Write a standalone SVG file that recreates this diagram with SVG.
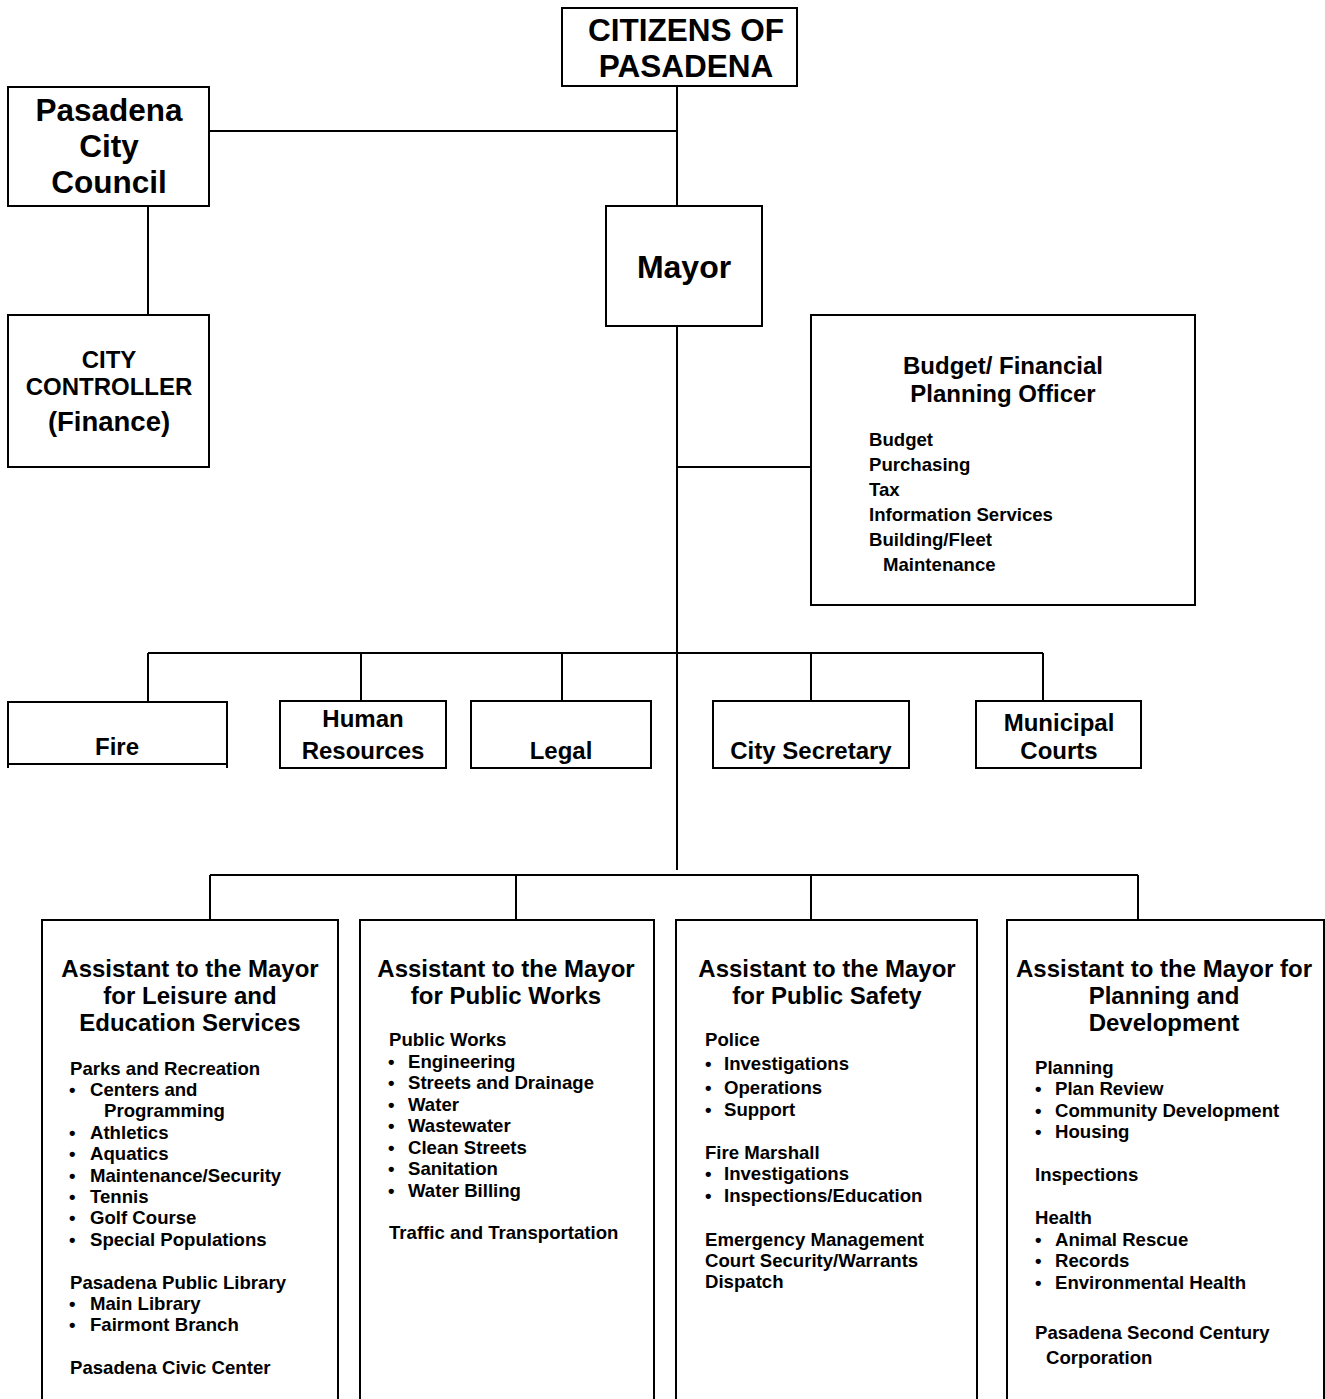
<svg xmlns="http://www.w3.org/2000/svg" width="1325" height="1399" viewBox="0 0 1325 1399">
<style>
.bx{fill:#fff;stroke:#000;stroke-width:2}
.ln{fill:none;stroke:#000;stroke-width:2}
text{font-family:"Liberation Sans",Arial,sans-serif;font-weight:bold;fill:#000}
.t1{font-size:31.5px;text-anchor:middle}
.t2{font-size:24px;text-anchor:middle}
.t3{font-size:18.6px}
</style>
<rect width="1325" height="1399" fill="#fff"/>
<g id="connectors">
<path class="ln" d="M677 86V870M209 131H677M148 206V315M677 467H811M148 653H1043M148 653V702M361 653V701M562 653V701M811 653V701M1043 653V701M210 875H1138M210 875V920M516 875V920M811 875V920M1138 875V920"/>
</g>
<g id="citizens"><rect class="bx" x="562" y="8" width="235" height="78"/><text class="t1" x="686" y="41">CITIZENS OF</text><text class="t1" x="686" y="77">PASADENA</text></g>
<g id="council"><rect class="bx" x="8" y="87" width="201" height="119"/><text class="t1" x="109" y="121">Pasadena</text><text class="t1" x="109" y="157">City</text><text class="t1" x="109" y="193">Council</text></g>
<g id="mayor"><rect class="bx" x="606" y="206" width="156" height="120"/><text class="t1" x="684" y="278" style="font-size:32px">Mayor</text></g>
<g id="controller"><rect class="bx" x="8" y="315" width="201" height="152"/><text class="t2" x="109" y="368">CITY</text><text class="t2" x="109" y="395">CONTROLLER</text><text class="t2" x="109" y="431" style="font-size:27.5px">(Finance)</text></g>
<g id="budget"><rect class="bx" x="811" y="315" width="384" height="290"/><text class="t2" x="1003" y="374">Budget/ Financial</text><text class="t2" x="1003" y="402">Planning Officer</text>
<text class="t3"><tspan x="869" y="446">Budget</tspan><tspan x="869" y="471">Purchasing</tspan><tspan x="869" y="496">Tax</tspan><tspan x="869" y="521">Information Services</tspan><tspan x="869" y="546">Building/Fleet</tspan><tspan x="883" y="571">Maintenance</tspan></text></g>
<g id="fire"><rect class="bx" x="8" y="702" width="219" height="62"/><path class="ln" d="M8 764V768M227 764V768"/><text class="t2" x="117" y="755">Fire</text></g>
<g id="hr"><rect class="bx" x="280" y="701" width="166" height="67"/><text class="t2" x="363" y="727">Human</text><text class="t2" x="363" y="759">Resources</text></g>
<g id="legal"><rect class="bx" x="471" y="701" width="180" height="67"/><text class="t2" x="561" y="759">Legal</text></g>
<g id="secretary"><rect class="bx" x="713" y="701" width="196" height="67"/><text class="t2" x="811" y="759">City Secretary</text></g>
<g id="courts"><rect class="bx" x="976" y="701" width="165" height="67"/><text class="t2" x="1059" y="731">Municipal</text><text class="t2" x="1059" y="759">Courts</text></g>
<g id="leisure"><path class="ln" d="M42 1399V920H338V1399"/>
<text class="t2" x="190" y="977">Assistant to the Mayor</text><text class="t2" x="190" y="1004">for Leisure and</text><text class="t2" x="190" y="1031">Education Services</text>
<text class="t3"><tspan x="70" y="1075">Parks and Recreation</tspan><tspan x="69" y="1096">•</tspan><tspan x="90" y="1096">Centers and</tspan><tspan x="104" y="1117">Programming</tspan><tspan x="69" y="1139">•</tspan><tspan x="90" y="1139">Athletics</tspan><tspan x="69" y="1160">•</tspan><tspan x="90" y="1160">Aquatics</tspan><tspan x="69" y="1182">•</tspan><tspan x="90" y="1182">Maintenance/Security</tspan><tspan x="69" y="1203">•</tspan><tspan x="90" y="1203">Tennis</tspan><tspan x="69" y="1224">•</tspan><tspan x="90" y="1224">Golf Course</tspan><tspan x="69" y="1246">•</tspan><tspan x="90" y="1246">Special Populations</tspan><tspan x="70" y="1289">Pasadena Public Library</tspan><tspan x="69" y="1310">•</tspan><tspan x="90" y="1310">Main Library</tspan><tspan x="69" y="1331">•</tspan><tspan x="90" y="1331">Fairmont Branch</tspan><tspan x="70" y="1374">Pasadena Civic Center</tspan></text></g>
<g id="publicworks"><path class="ln" d="M360 1399V920H654V1399"/>
<text class="t2" x="506" y="977">Assistant to the Mayor</text><text class="t2" x="506" y="1004">for Public Works</text>
<text class="t3"><tspan x="389" y="1046">Public Works</tspan><tspan x="388" y="1068">•</tspan><tspan x="408" y="1068">Engineering</tspan><tspan x="388" y="1089">•</tspan><tspan x="408" y="1089">Streets and Drainage</tspan><tspan x="388" y="1111">•</tspan><tspan x="408" y="1111">Water</tspan><tspan x="388" y="1132">•</tspan><tspan x="408" y="1132">Wastewater</tspan><tspan x="388" y="1154">•</tspan><tspan x="408" y="1154">Clean Streets</tspan><tspan x="388" y="1175">•</tspan><tspan x="408" y="1175">Sanitation</tspan><tspan x="388" y="1197">•</tspan><tspan x="408" y="1197">Water Billing</tspan><tspan x="389" y="1239">Traffic and Transportation</tspan></text></g>
<g id="publicsafety"><path class="ln" d="M676 1399V920H977V1399"/>
<text class="t2" x="827" y="977">Assistant to the Mayor</text><text class="t2" x="827" y="1004">for Public Safety</text>
<text class="t3"><tspan x="705" y="1046">Police</tspan><tspan x="705" y="1070">•</tspan><tspan x="724" y="1070">Investigations</tspan><tspan x="705" y="1094">•</tspan><tspan x="724" y="1094">Operations</tspan><tspan x="705" y="1116">•</tspan><tspan x="724" y="1116">Support</tspan><tspan x="705" y="1159">Fire Marshall</tspan><tspan x="705" y="1180">•</tspan><tspan x="724" y="1180">Investigations</tspan><tspan x="705" y="1202">•</tspan><tspan x="724" y="1202">Inspections/Education</tspan><tspan x="705" y="1246">Emergency Management</tspan><tspan x="705" y="1267">Court Security/Warrants</tspan><tspan x="705" y="1288">Dispatch</tspan></text></g>
<g id="planning"><path class="ln" d="M1007 1399V920H1324V1399"/>
<text class="t2" x="1164" y="977">Assistant to the Mayor for</text><text class="t2" x="1164" y="1004">Planning and</text><text class="t2" x="1164" y="1031">Development</text>
<text class="t3"><tspan x="1035" y="1074">Planning</tspan><tspan x="1035" y="1095">•</tspan><tspan x="1055" y="1095">Plan Review</tspan><tspan x="1035" y="1117">•</tspan><tspan x="1055" y="1117">Community Development</tspan><tspan x="1035" y="1138">•</tspan><tspan x="1055" y="1138">Housing</tspan><tspan x="1035" y="1181">Inspections</tspan><tspan x="1035" y="1224">Health</tspan><tspan x="1035" y="1246">•</tspan><tspan x="1055" y="1246">Animal Rescue</tspan><tspan x="1035" y="1267">•</tspan><tspan x="1055" y="1267">Records</tspan><tspan x="1035" y="1289">•</tspan><tspan x="1055" y="1289">Environmental Health</tspan><tspan x="1035" y="1339">Pasadena Second Century</tspan><tspan x="1046" y="1364">Corporation</tspan></text></g>
</svg>
